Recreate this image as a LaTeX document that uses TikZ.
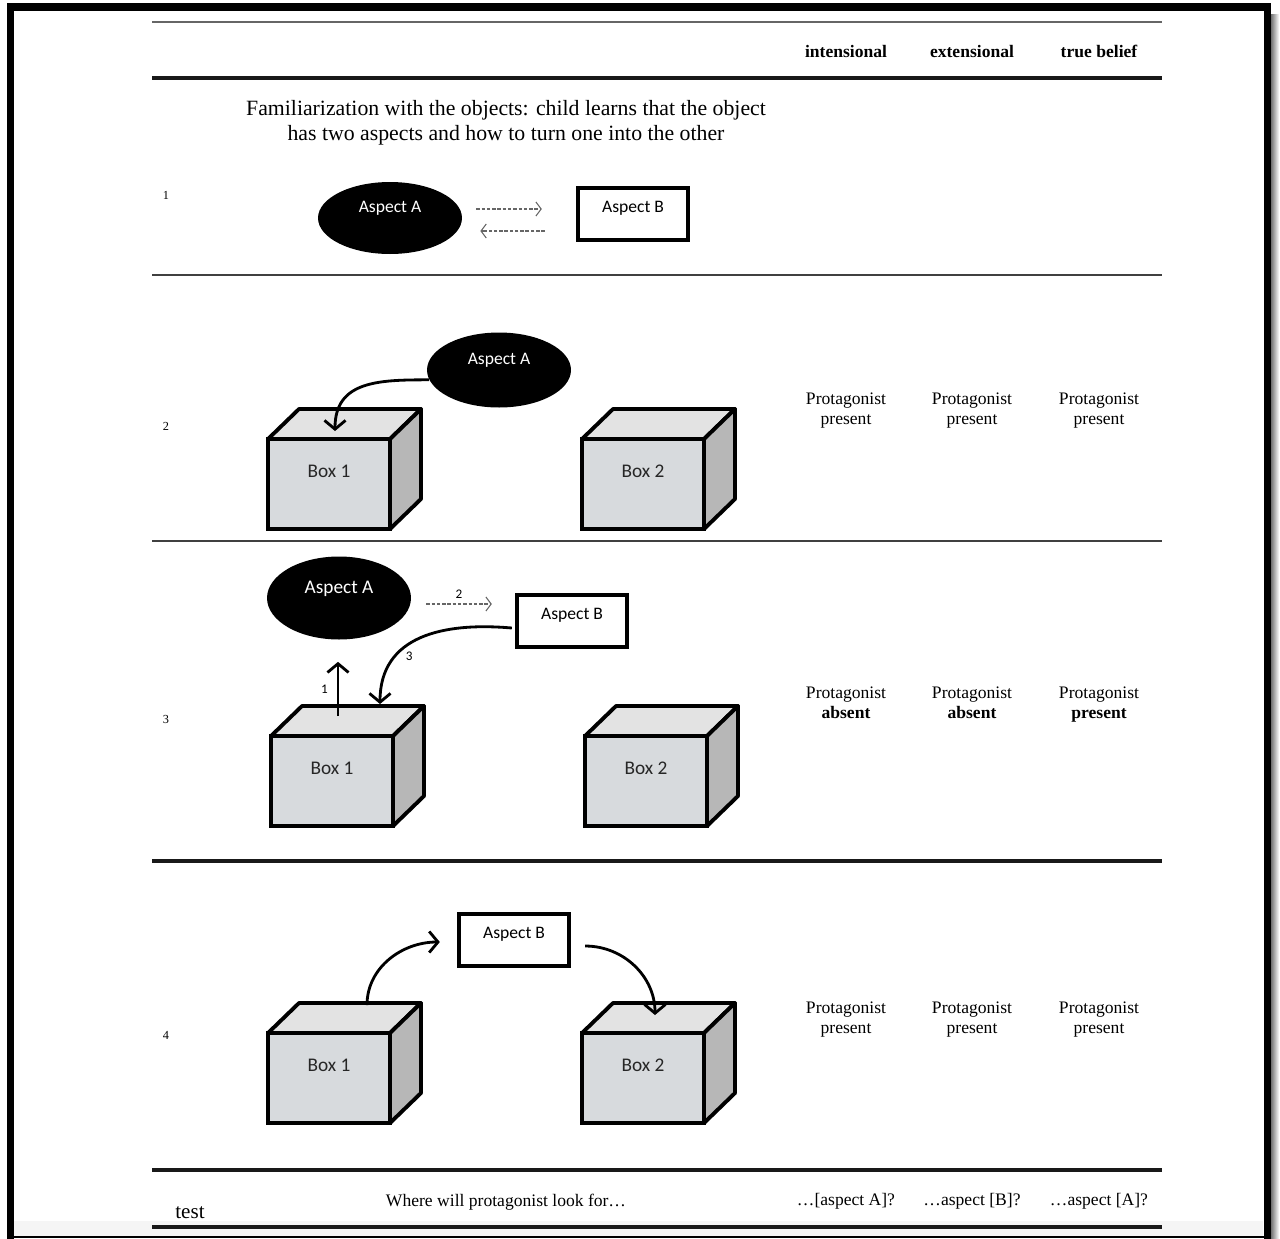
\documentclass[tikz,border=0pt]{standalone}
\usepackage{fontspec}
\setmainfont{Liberation Serif}
\newfontfamily\boxfont{Carlito}
\usetikzlibrary{shapes.geometric,arrows.meta}
\definecolor{frontgray}{HTML}{D7DADD}
\definecolor{topgray}{HTML}{E3E3E3}
\definecolor{sidegray}{HTML}{B7B7B7}

\begin{document}
\begin{tikzpicture}[x=0.02cm, y=-0.02cm,
            thinrule/.style={line width=1pt, black!75},
            thickrule/.style={line width=2pt, black!90},
            aspecta/.style={ellipse, fill=black, text=white, minimum width=2.88cm, minimum height=1.44cm, font=\boxfont\fontsize{10}{12}\selectfont, text depth=0.44cm},
            aspectb/.style={rectangle, draw, line width=2.5pt, minimum width=2.2cm, minimum height=1.04cm, font=\boxfont\fontsize{10}{12}\selectfont, text depth=0.28cm},
            boxfront/.style={rectangle, draw, line width=2.2pt, fill=frontgray, minimum width=2.44cm, minimum height=1.8cm, outer sep=0pt, font=\boxfont\fontsize{11}{13}\selectfont, text=black!85, text depth=0.52cm},
            boxface/.style={draw, line width=2.2pt, line join=round},
            move/.style={line width=1.6pt, -{Straight Barb[length=5pt,width=12pt]}},
            turn/.style={black!60, line width=0.6pt, dash pattern=on 2pt off 1pt, -{Straight Barb[length=3pt,width=8pt]}},
            cell/.style={align=center, font=\fontsize{10}{11.5}\selectfont, text depth=0.25em},
            rownum/.style={font=\fontsize{7}{8}\selectfont},
            steplabel/.style={font=\boxfont\fontsize{7.5}{8}\selectfont, text=black, inner sep=2pt}]
            \useasboundingbox (0,0) rectangle (1280,1238);
            \fill[black!4] (14,1221) rectangle (1263,1236);
            \shade[left color=black!55, right color=white] (1271,14) rectangle (1279,1238);
            \draw[line width=4pt] (10.5,1245) -- (10.5,7) -- (1267,7) -- (1267,1245);
            \draw[line width=1.2pt] (10,1237) -- (1267,1237);

            \draw[thinrule, black!60] (152,22) -- (1162,22);
            \draw[thickrule] (152,78) -- (1162,78);
            \draw[thinrule] (152,275) -- (1162,275);
            \draw[thinrule] (152,541) -- (1162,541);
            \draw[thickrule] (152,861) -- (1162,861);
            \draw[thickrule] (152,1170) -- (1162,1170);
            \draw[thickrule] (152,1227) -- (1162,1227);

            \node[font=\bfseries\fontsize{10}{12}\selectfont] (hint) at (846,51) {intensional};
            \node[font=\bfseries\fontsize{10}{12}\selectfont] (hext) at (972,51) {extensional};
            \node[font=\bfseries\fontsize{10}{12}\selectfont] (htrue) at (1099,51) {true belief};
            \node[align=center, font=\fontsize{12.4}{14.3}\selectfont] (intro) at (506,123) {Familiarization with the objects: child learns that the object\\has two aspects and how to turn one into the other};

            \node[rownum] (r1) at (166,195) {1};
            \node[rownum] (r2) at (166,426) {2};
            \node[rownum] (r3) at (166,719) {3};
            \node[rownum] (r4) at (166,1035) {4};

            \node[aspecta] (aA1) at (390,218) {Aspect A};
            \node[aspectb] (aB1) at (633,214) {Aspect B};
            \draw[turn] ([shift={(14,-9)}]aA1.east) -- ([shift={(-34,-5)}]aB1.west);
            \draw[turn] ([shift={(-31,17)}]aB1.west) -- ([shift={(18,13)}]aA1.east);

            \node[aspecta, minimum height=1.5cm] (aA2) at (499,370) {Aspect A};
            \node[boxfront] (b21) at (329,484) {Box 1};
            \node[boxfront] (b22) at (643,484) {Box 2};

            \node[aspecta, minimum height=1.66cm, font=\boxfont\fontsize{11}{13}\selectfont] (aA3) at (339,598) {Aspect A};
            \node[aspectb] (aB3) at (572,621) {Aspect B};
            \node[boxfront] (b31) at (332,781) {Box 1};
            \node[boxfront] (b32) at (646,781) {Box 2};

            \node[aspectb] (aB4) at (514,940) {Aspect B};
            \node[boxfront] (b41) at (329,1078) {Box 1};
            \node[boxfront] (b42) at (643,1078) {Box 2};

            \foreach \b in {b21,b22,b31,b32,b41,b42} {
                \draw[boxface, fill=topgray] (\b.north west) -- ++(31,-30) -- ++(122,0) -- (\b.north east) -- cycle;
                \draw[boxface, fill=sidegray] (\b.north east) -- ++(31,-30) -- ++(0,90) -- (\b.south east) -- cycle;
            }

            \draw[move] (aA2.188) to[out=180, in=90, looseness=1.2] ([shift={(6,-8)}]b21.north);
            \draw[move] ([shift={(6,-20)}]b31.north) -- node[steplabel, left=3pt] (n1) {1} ([shift={(-1,22)}]aA3.south);
            \draw[turn] ([shift={(15,6)}]aA3.east) -- node[steplabel, above=1pt] (n2) {2} ([shift={(-23,-17)}]aB3.west);
            \draw[move] ([shift={(-3,7)}]aB3.west) to[out=175, in=90, looseness=1.15] node[steplabel, pos=0.7, right=3pt] (n3) {3} ([shift={(48,-32)}]b31.north);
            \draw[move] ([shift={(38,-28)}]b41.north) to[out=90, in=180] ([shift={(-17,2)}]aB4.west);
            \draw[move] ([shift={(14,6)}]aB4.east) to[out=0, in=90] ([shift={(12,-18)}]b42.north);

            \node[cell] (c21) at (846,411) {Protagonist\\present};
            \node[cell] (c22) at (972,411) {Protagonist\\present};
            \node[cell] (c23) at (1099,411) {Protagonist\\present};
            \node[cell] (c31) at (846,705) {Protagonist\\\textbf{absent}};
            \node[cell] (c32) at (972,705) {Protagonist\\\textbf{absent}};
            \node[cell] (c33) at (1099,705) {Protagonist\\\textbf{present}};
            \node[cell] (c41) at (846,1020) {Protagonist\\present};
            \node[cell] (c42) at (972,1020) {Protagonist\\present};
            \node[cell] (c43) at (1099,1020) {Protagonist\\present};

            \node[font=\fontsize{12}{14}\selectfont] (test) at (190,1213) {test};
            \node[font=\fontsize{10}{12}\selectfont, text depth=0.25em] (where) at (506,1202) {Where will protagonist look for\ldots};
            \node[font=\fontsize{10}{12}\selectfont, text depth=0.25em] (q1) at (846,1202) {\ldots[aspect A]?};
            \node[font=\fontsize{10}{12}\selectfont, text depth=0.25em] (q2) at (972,1202) {\ldots aspect [B]?};
            \node[font=\fontsize{10}{12}\selectfont, text depth=0.25em] (q3) at (1099,1202) {\ldots aspect [A]?};
        \end{tikzpicture}
\end{document}
